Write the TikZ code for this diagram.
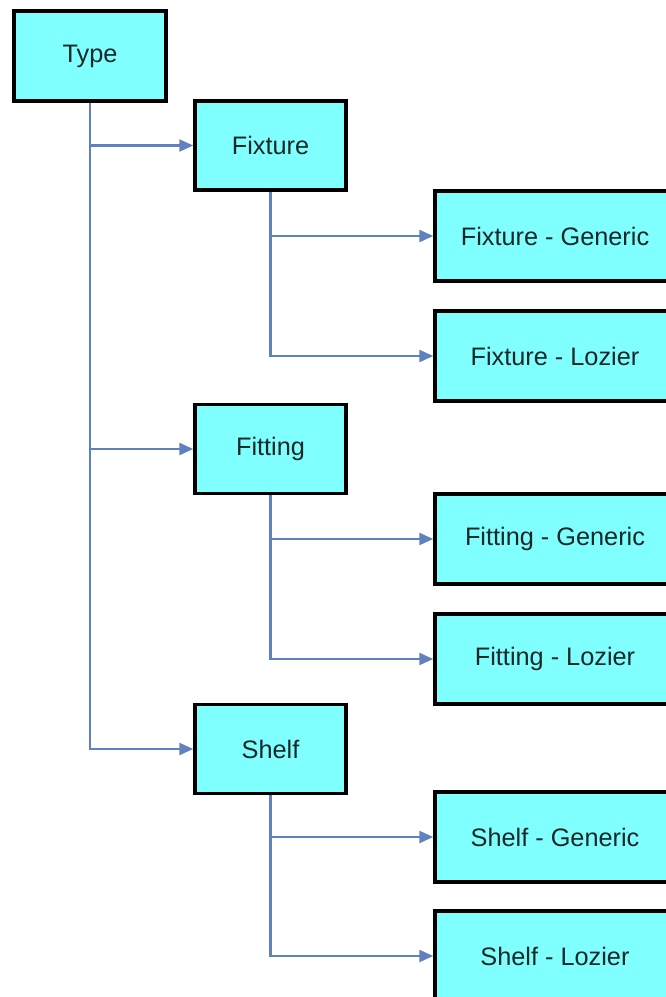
\documentclass[tikz,border=0pt]{standalone}
\usepackage{fontspec}
\setmainfont{Liberation Sans}
\usetikzlibrary{arrows.meta}
\definecolor{boxfill}{RGB}{128,255,255}
\definecolor{connc}{RGB}{96,128,192}
\definecolor{txtc}{RGB}{25,40,40}
\tikzset{
  box/.style={draw=black, line width=3.5pt, fill=boxfill, inner sep=0pt,
    minimum width=151pt, minimum height=89pt, font=\fontsize{25.3}{29}\selectfont, text=txtc},
  wide/.style={box, minimum width=240pt, minimum height=90pt},
  conn/.style={draw=connc, line width=2.4pt, -{Triangle[length=14pt,width=12pt]}}
}
\begin{document}
\begin{tikzpicture}[x=1pt,y=-1pt]
\useasboundingbox (0,0) rectangle (666,997);
\clip (0,0) rectangle (666,997);
\node[box, minimum width=152pt, minimum height=90pt] (type) at (90,56) {Type};
\node[box] (fix) at (270.5,145.5) {Fixture};
\node[box] (fit) at (270.5,449) {Fitting};
\node[box] (shelf) at (270.5,749) {Shelf};
\node[wide] (fixg) at (555,236) {Fixture - Generic};
\node[wide] (fixl) at (555,356) {Fixture - Lozier};
\node[wide] (fitg) at (555,539) {Fitting - Generic};
\node[wide] (fitl) at (555,659) {Fitting - Lozier};
\node[wide] (shg) at (555,837) {Shelf - Generic};
\node[wide] (shl) at (555,956) {Shelf - Lozier};
\draw[conn] (type.south) |- (fix.west);
\draw[conn] (type.south) |- (fit.west);
\draw[conn] (type.south) |- (shelf.west);
\draw[conn] (fix.south) |- (fixg.west);
\draw[conn] (fix.south) |- (fixl.west);
\draw[conn] (fit.south) |- (fitg.west);
\draw[conn] (fit.south) |- (fitl.west);
\draw[conn] (shelf.south) |- (shg.west);
\draw[conn] (shelf.south) |- (shl.west);
\end{tikzpicture}
\end{document}
